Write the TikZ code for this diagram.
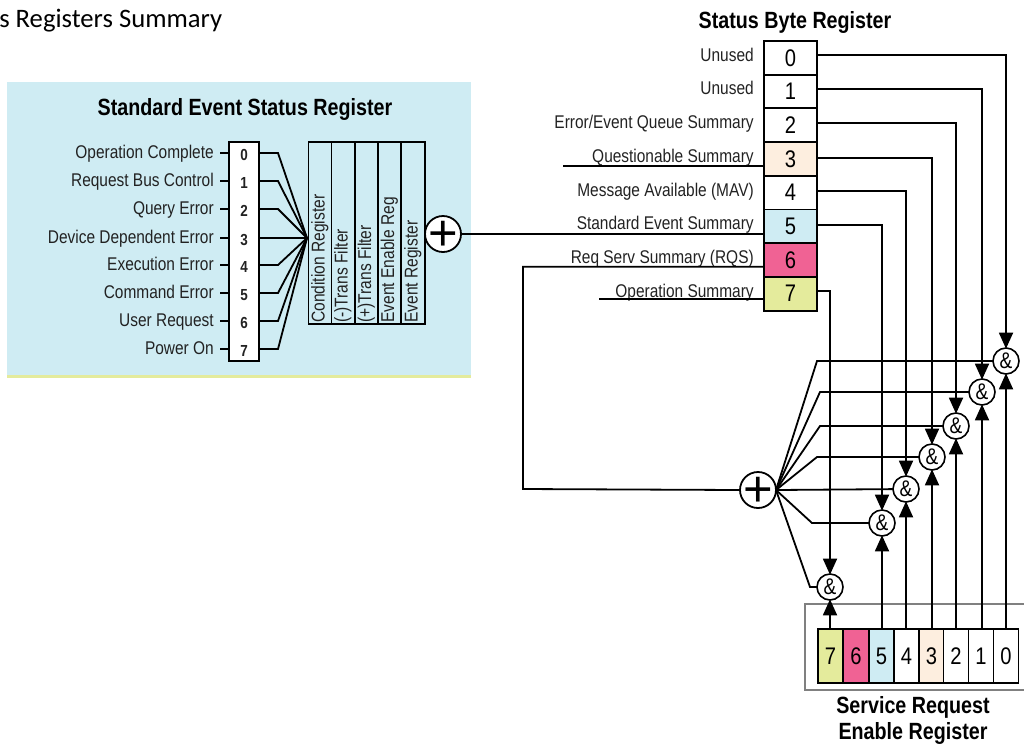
\documentclass[tikz,border=0pt]{standalone}
\usepackage{fontspec}
\setmainfont[FakeStretch=0.84]{Liberation Sans}
\newfontfamily\titlefont{Carlito}
\newfontfamily\plusfont{Liberation Sans}
\newcommand{\plusmark}{\smash{\raisebox{-12.6pt}{\makebox[0pt]{+}}}}
\usetikzlibrary{arrows.meta}
\definecolor{panelblue}{HTML}{CFECF3}
\definecolor{panelyellow}{HTML}{E4EB9C}
\definecolor{cellpink}{HTML}{F06294}
\definecolor{cellpeach}{HTML}{FDEEDF}
\definecolor{labelgray}{HTML}{222222}
\tikzset{
  conn/.style={draw=black,line width=1.35pt},
  arr/.style={conn,-{Triangle[length=12pt,width=10.5pt]},shorten >=-0.5pt},
  heading/.style={font=\bfseries\fontsize{17.6}{20}\selectfont,inner sep=0pt,text=black},
  lbl/.style={font=\fontsize{13.8}{16}\selectfont,inner sep=0pt,anchor=east,text=labelgray,text height=10pt,text depth=3pt},
  smalldigit/.style={font=\bfseries\fontsize{12}{14}\selectfont,inner sep=0pt,text=labelgray},
  collab/.style={font=\fontsize{13.9}{15}\selectfont,inner sep=0pt,rotate=90,anchor=west,text=labelgray,text height=10pt,text depth=3pt},
  col/.style={draw=black,line width=1.2pt,fill=panelblue,minimum width=23.4*0.75pt,minimum height=182*0.75pt,inner sep=0pt,outer sep=0pt},
  sbcell/.style={draw=black,line width=1.35pt,minimum width=53*0.75pt,minimum height=33.8*0.75pt,inner sep=0pt,outer sep=0pt,font=\fontsize{18}{20}\selectfont},
  srcell/.style={draw=black,line width=1.35pt,minimum width=25*0.75pt,minimum height=54*0.75pt,inner sep=0pt,outer sep=0pt,font=\fontsize{18}{20}\selectfont},
  sumc/.style={circle,draw=black,line width=1.35pt,fill=white,minimum size=36*0.75pt,inner sep=0pt,outer sep=0pt,font=\plusfont\fontsize{38}{40}\selectfont},
  andc/.style={circle,draw=black,line width=1.2pt,fill=white,minimum size=26*0.75pt,inner sep=0pt,outer sep=0pt,font=\fontsize{17}{19}\selectfont},
}
\begin{document}
\begin{tikzpicture}[x=0.75pt,y=-0.75pt]
\useasboundingbox (0,0) rectangle (1024,744);
\node[anchor=west,inner sep=0pt,font=\titlefont\fontsize{20}{22}\selectfont] (pagetitle) at (-1,21) {s Registers Summary};
% Standard event panel
\node[fill=panelblue,minimum width=464*0.75pt,minimum height=294*0.75pt,inner sep=0pt,outer sep=0pt] (panel) at (239,229) {};
\fill[panelyellow] (7,375) rectangle (471,378);
\node[heading] (sestitle) at (245,109.5) {Standard Event Status Register};
\node[draw=black,line width=1.35pt,fill=white,minimum width=30*0.75pt,minimum height=219*0.75pt,inner sep=0pt,outer sep=0pt] (lreg) at (244,251.5) {};
\foreach \i/\t/\y in {0/Operation Complete/153,1/Request Bus Control/181,2/Query Error/209,3/Device Dependent Error/238,4/Execution Error/265,5/Command Error/293,6/User Request/321,7/Power On/349}{
  \node[lbl] (lab\i) at (214,\y+1) {\t};
  \node[smalldigit] (dig\i) at (244,\y+2) {\i};
}
\coordinate (fan) at (307,238);
\foreach \i/\y in {0/153,1/181,2/209,3/238,4/265,5/293,6/321,7/349}{
  \draw[conn] (220,\y) coordinate (st\i) -- (st\i -| lreg.west);
  \draw[conn] (st\i -| lreg.east) -- ++(19,0) -- (fan);
}
\foreach \i/\x/\t in {1/320/Condition Register,2/343/(-)Trans Filter,3/366.5/(+)Trans Filter,4/389.5/Event Enable Reg,5/413/Event Register}{
  \node[col] (c\i) at (\x,233) {};
  \node[collab] (ct\i) at (\x,323) {\t};
}
\node[sumc] (p1) at (443,234) {\plusmark};
% Status byte
\node[heading] (sbtitle) at (795,22.5) {Status Byte Register};
\foreach \i/\y/\f/\t in {0/57.8/white/Unused,1/91.5/white/Unused,2/125.2/white/Error\slash Event Queue Summary,3/158.9/cellpeach/Questionable Summary,4/192.6/white/Message Available (MAV),5/226.3/panelblue/Standard Event Summary,6/260/cellpink/Req Serv Summary (RQS),7/293.7/panelyellow/Operation Summary}{
  \node[sbcell,fill=\f] (s\i) at (790.5,\y) {\i};
  \node[lbl] (sl\i) at (754,\y-1.2) {\t};
}
\coordinate (q) at (563,166);
\coordinate (o) at (599,299);
\draw[conn] (q) -- (q -| s3.west);
\draw[conn] (o) -- (o -| s7.west);
\draw[conn] (p1.east) -- (p1.east -| s5.west);
% AND gates
\foreach \n/\x/\y in {a0/1006/361,a1/982/392,a2/956/426,a3/932/457,a4/906/489,a5/882/523,a7/830/587}{
  \node[andc] (\n) at (\x,\y) {\&};
}
\node[sumc] (p2) at (758,490) {\plusmark};
\draw[conn] ([yshift=-5pt]s6.west) -| (523,489) -- (p2.west);
% Status outputs
\draw[arr] ([yshift=2pt]s0.east) -| (a0);
\draw[arr] ([yshift=2pt]s1.east) -| (a1);
\draw[arr] ([yshift=1.5pt]s2.east) -| (a2);
\draw[arr] ([yshift=0.5pt]s3.east) -| (a3);
\draw[arr] ([yshift=1.5pt]s4.east) -| (a4);
\draw[arr] ([yshift=1pt]s5.east) -| (a5);
\draw[arr] ([yshift=2pt]s7.east) -| (a7);
% Fan from the sum
\draw[conn] (p2.east) -- (817,361) -- (a0);
\draw[conn] (p2.east) -- (820,392) -- (a1);
\draw[conn] (p2.east) -- (820,426) -- (a2);
\draw[conn] (p2.east) -- (817,457) -- (a3);
\draw[conn] (p2.east) -- (a4);
\draw[conn] (p2.east) -- (812,523) -- (a5);
\draw[conn] (p2.east) -- (810,587) -- (a7);
% Service request enable
\draw[draw=black!50,line width=0.8pt] (1024,604) -- (805,604) -- (805,690) -- (1024,690);
\foreach \i/\x/\f in {7/830.5/panelyellow,6/856/cellpink,5/881.5/panelblue,4/906.5/white,3/931.5/cellpeach,2/956/white,1/981/white,0/1006/white}{
  \node[srcell,fill=\f] (e\i) at (\x,656) {\i};
}
\draw[arr] (e7.north -| a7) -- (a7);
\draw[arr] (e5.north -| a5) -- (a5);
\draw[arr] (e4.north -| a4) -- (a4);
\draw[arr] (e3.north -| a3) -- (a3);
\draw[arr] (e2.north -| a2) -- (a2);
\draw[arr] (e1.north -| a1) -- (a1);
\draw[arr] (e0.north -| a0) -- (a0);
\node[heading,align=center] (srtitle) at (913,720.5) {Service Request\\[-1pt]Enable Register};
\end{tikzpicture}
\end{document}
